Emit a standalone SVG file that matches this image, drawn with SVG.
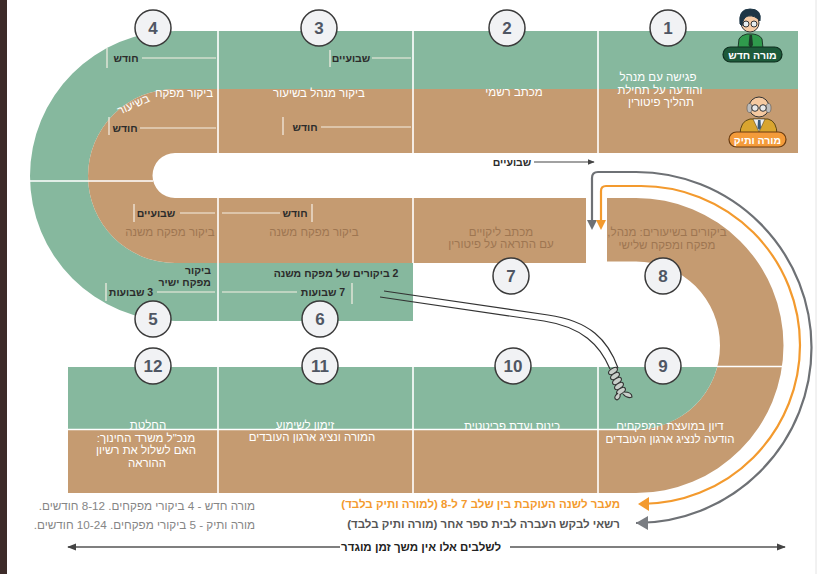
<svg xmlns="http://www.w3.org/2000/svg" width="828" height="574" viewBox="0 0 828 574">
<style>
.g{fill:#86b89e}
.t{fill:#c59b71}
.dv{stroke:#fff;stroke-width:1.6;fill:none}
.tk{stroke:#f6efe4;stroke-width:1.2;fill:none}
.lbl{font-family:"Liberation Sans",Arial,sans-serif;font-weight:bold;font-size:10.5px;fill:#2b2b2b}
.w{font-family:"Liberation Sans",Arial,sans-serif;font-size:11.5px;fill:#fff}
.d{font-family:"Liberation Sans",Arial,sans-serif;font-size:11.5px;fill:#9e7651}
.circ{fill:#f1f2f4;stroke:#3a3a3a;stroke-width:1.5}
.num{font-family:"Liberation Sans",Arial,sans-serif;font-weight:bold;font-size:17px;fill:#4f5663;text-anchor:middle}
.leg{font-family:"Liberation Sans",Arial,sans-serif;font-size:11.7px;fill:#858585}
text{direction:rtl}
</style>
<defs>
<marker id="ah" viewBox="0 0 10 10" refX="9" refY="5" markerWidth="6" markerHeight="6" orient="auto">
<path d="M0,1 L10,5 L0,9 Z" fill="#444"/>
</marker>
</defs>
<rect x="0" y="0" width="828" height="574" fill="#fff"/>
<rect x="0" y="0" width="7" height="574" fill="#3d2b29"/>
<line x1="816" y1="0" x2="816" y2="574" stroke="#e4e4e4" stroke-width="1"/>

<g id="track">
<rect class="g" x="175" y="31" width="623" height="58"/>
<rect class="t" x="175" y="89" width="623" height="64"/>
<path class="g" d="M175,31 A145,145 0 0 0 175,321 V263 A87,87 0 0 1 175,89 Z"/>
<path class="t" d="M175,89 A87,87 0 0 0 175,263 V198 A22.5,22.5 0 0 1 175,153 Z"/>
<rect class="t" x="175" y="198" width="411" height="65"/>
<rect class="g" x="175" y="263" width="238" height="58"/>
<path class="t" d="M607,198 H636 A147.5,147.5 0 0 1 636,493 H68 V429.5 H636 A84,84 0 0 0 636,261.5 H607 Z"/>
<path class="g" d="M68,367 H717.2 A84,84 0 0 1 636,429.5 H68 Z"/>
<path class="dv" d="M68,429.5 H636 M218,31 V153 M413,31 V153 M598,31 V153 M218,198 V321 M413,198 V263 M218,367 V493 M413,367 V493 M598,367 V493 M29,181 H153 M717,366.5 H783"/>
</g>

<g id="s1">
<circle class="circ" cx="668" cy="28" r="18"/><text class="num" x="668" y="34">1</text>
<text class="w" text-anchor="middle" x="658" y="81">פגישה עם מנהל</text>
<text class="w" text-anchor="middle" x="660" y="94">והודעה על תחילת</text>
<text class="w" text-anchor="middle" x="661" y="106">תהליך פיטורין</text>
</g>
<g id="new-teacher">
<path d="M738,48 L739,39 Q741,35 747,34 H753 Q760,35 762,39 L763,48 Z" fill="#2f9a4c" stroke="#1d3b2a" stroke-width="1"/>
<path d="M749.5,35 H752 L753,45 L750.7,48 L748.5,45 Z" fill="#1d3b2a"/>
<circle cx="750" cy="23" r="9" fill="#f6cba6" stroke="#333" stroke-width="1"/>
<path d="M740,24 Q738,9 750,9 Q762,9 760,21 Q755,15 748,16 Q743,17 742,26 Z" fill="#1e3646" stroke="#1e3646" stroke-width="1"/>
<circle cx="746" cy="24" r="3" fill="#e6edf1" stroke="#333" stroke-width="1"/>
<circle cx="754" cy="24" r="3" fill="#e6edf1" stroke="#333" stroke-width="1"/>
<rect x="723" y="47" width="59" height="15" rx="7.5" fill="#1d5a3a" stroke="#0f2f1f" stroke-width="1.2"/>
<text x="752.5" y="58.5" text-anchor="middle" font-family="Liberation Sans, Arial, sans-serif" font-weight="bold" font-size="10.5" fill="#fff">מורה חדש</text>
</g>
<g id="old-teacher">
<path d="M740,135 Q740,121 750,119 H768 Q777,121 777,135 Z" fill="#d9a52f" stroke="#5b4517" stroke-width="1"/>
<path d="M753,119 H765 L759,132 Z" fill="#eef0f4" stroke="#5b4517" stroke-width="0.6"/>
<path d="M758,120 H760.5 L761,128 L759.2,130 L757.5,128 Z" fill="#3a5a7a"/>
<circle cx="759" cy="107" r="10" fill="#f5c9a0" stroke="#333" stroke-width="1"/>
<ellipse cx="749.5" cy="108" rx="2.5" ry="4.5" fill="#bdbdbd" stroke="#555" stroke-width="0.6"/>
<ellipse cx="768.5" cy="108" rx="2.5" ry="4.5" fill="#bdbdbd" stroke="#555" stroke-width="0.6"/>
<circle cx="755" cy="108" r="3.3" fill="#e8e8e8" stroke="#333" stroke-width="1"/>
<circle cx="763" cy="108" r="3.3" fill="#e8e8e8" stroke="#333" stroke-width="1"/>
<rect x="729" y="132" width="57" height="15" rx="7.5" fill="#f49b3a" stroke="#6b3d12" stroke-width="1.2"/>
<text x="757.5" y="143.5" text-anchor="middle" font-family="Liberation Sans, Arial, sans-serif" font-weight="bold" font-size="10.5" fill="#fff">מורה ותיק</text>
</g>

<g id="s2">
<circle class="circ" cx="507" cy="28" r="18"/><text class="num" x="507" y="34">2</text>
<text class="w" text-anchor="middle" x="514" y="96">מכתב רשמי</text>
</g>

<g id="s3">
<circle class="circ" cx="319" cy="28" r="18"/><text class="num" x="319" y="34">3</text>
<path class="tk" d="M330,50 V67 M372,58 H411 M283,117 V135 M321,127 H411"/>
<text class="lbl" text-anchor="middle" x="351" y="62">שבועיים</text>
<text class="w" text-anchor="middle" x="319" y="97">ביקור מנהל בשיעור</text>
<text class="lbl" text-anchor="middle" x="305" y="131">חודש</text>
</g>

<g id="s4">
<circle class="circ" cx="153" cy="28" r="18"/><text class="num" x="153" y="34">4</text>
<path class="tk" d="M107,48 V68 M142,58 H216 M109,117 V135 M140,128 H216"/>
<text class="lbl" text-anchor="middle" x="126" y="62">חודש</text>
<text class="w" text-anchor="middle" x="184" y="97">ביקור מפקח</text>
<text class="w" text-anchor="middle" transform="translate(135,108) rotate(-24)" x="0" y="0">בשיעור</text>
<text class="lbl" text-anchor="middle" x="125" y="132">חודש</text>
</g>

<g id="s5">
<circle class="circ" cx="153" cy="319" r="18"/><text class="num" x="153" y="325">5</text>
<path class="tk" d="M134,204 V222 M180,213 H215 M106,283 V301 M157,292 H215"/>
<text class="lbl" text-anchor="middle" x="156" y="217">שבועיים</text>
<text class="d" text-anchor="middle" x="170" y="236">ביקור מפקח משנה</text>
<text class="lbl" text-anchor="start" x="211" y="274">ביקור</text>
<text class="lbl" text-anchor="start" x="211" y="286">מפקח ישיר</text>
<text class="lbl" text-anchor="middle" x="131" y="296">3 שבועות</text>
</g>

<g id="s6">
<circle class="circ" cx="320" cy="319" r="18"/><text class="num" x="320" y="325">6</text>
<path class="tk" d="M312,204 V222 M222,213 H280 M352,283 V304 M222,292 H297"/>
<text class="lbl" text-anchor="middle" x="295" y="217">חודש</text>
<text class="d" text-anchor="middle" x="314" y="236">ביקור מפקח משנה</text>
<text class="lbl" text-anchor="middle" x="336" y="277">2 ביקורים של מפקח משנה</text>
<text class="lbl" text-anchor="middle" x="323" y="296">7 שבועות</text>
</g>

<g id="s7">
<circle class="circ" cx="511" cy="276" r="18"/><text class="num" x="511" y="282">7</text>
<text class="d" text-anchor="middle" x="501" y="236">מכתב ליקויים</text>
<text class="d" text-anchor="middle" x="501" y="248">עם התראה על פיטורין</text>
</g>

<g id="s8">
<circle class="circ" cx="663" cy="276" r="18"/><text class="num" x="663" y="282">8</text>
<text class="d" text-anchor="middle" x="667" y="236">ביקורים בשיעורים: מנהל,</text>
<text class="d" text-anchor="middle" x="667" y="249">מפקח ומפקח שלישי</text>
</g>

<g id="s9">
<circle class="circ" cx="663" cy="366" r="18"/><text class="num" x="663" y="372">9</text>
<text class="w" text-anchor="middle" x="670" y="430">דיון במועצת המפקחים</text>
<text class="w" text-anchor="middle" x="670" y="443">הודעה לנציג ארגון העובדים</text>
</g>

<g id="s10">
<circle class="circ" cx="513" cy="366" r="18"/><text class="num" x="513" y="372">10</text>
<text class="w" text-anchor="middle" x="512" y="430">כינוס ועדת פריטטית</text>
</g>

<g id="s11">
<circle class="circ" cx="320" cy="366" r="18"/><text class="num" x="320" y="372">11</text>
<text class="w" text-anchor="middle" x="305" y="429">זימון לשימוע</text>
<text class="w" text-anchor="middle" x="312" y="441">המורה ונציג ארגון העובדים</text>
</g>

<g id="s12">
<circle class="circ" cx="153" cy="366" r="18"/><text class="num" x="153" y="372">12</text>
<text class="w" text-anchor="middle" x="148" y="429">החלטת</text>
<text class="w" text-anchor="middle" x="146" y="442">מנכ"ל משרד החינוך:</text>
<text class="w" text-anchor="middle" x="146" y="454">האם לשלול את רשיון</text>
<text class="w" text-anchor="middle" x="147" y="467">ההוראה</text>
</g>

<g id="connectors">
<path d="M592,222 V178 Q592,172 598,172 H636 A175.5,175.5 0 0 1 636,523 H646" fill="none" stroke="#6e7175" stroke-width="2.2"/>
<path d="M587,220 L597,220 L592,230 Z" fill="#6e7175"/>
<path d="M636,523 L648,516 L648,530 Z" fill="#7a7d82"/>
<path d="M601,222 V191 Q601,186 606,186 H641 A159,159 0 0 1 641,504 H646" fill="none" stroke="#f39a2e" stroke-width="2.2"/>
<path d="M596,220 L606,220 L601,230 Z" fill="#f39a2e"/>
<path d="M638,504 L649,497 L649,511 Z" fill="#f39a2e"/>
<line x1="534" y1="162" x2="594" y2="162" stroke="#444" stroke-width="1.2" marker-end="url(#ah)"/>
<line x1="510" y1="547" x2="785" y2="547" stroke="#555" stroke-width="1.5" marker-end="url(#ah)"/>
<line x1="340" y1="547" x2="68" y2="547" stroke="#555" stroke-width="1.5" marker-end="url(#ah)"/>
<g id="rope" fill="none" stroke="#333" stroke-width="1.2">
<path d="M384,291 L548,315 C590,321 608,340 618,368"/>
<path d="M380,297 L544,321 C582,327 600,345 610,369"/>
<g fill="#c9cfca" stroke="#333" stroke-width="1.1">
<ellipse cx="613" cy="371" rx="5" ry="2.6" transform="rotate(-35 613 371)"/>
<ellipse cx="615" cy="376" rx="5" ry="2.6" transform="rotate(-35 615 376)"/>
<ellipse cx="617" cy="381" rx="5" ry="2.6" transform="rotate(-35 617 381)"/>
<ellipse cx="619" cy="386" rx="5" ry="2.6" transform="rotate(-35 619 386)"/>
<ellipse cx="621" cy="391" rx="5" ry="2.6" transform="rotate(-35 621 391)"/>
<path d="M618,393 Q612,398 617,400 Q621,398 620,394"/>
<path d="M624,392 Q632,392 632,397 Q627,399 623,394"/>
</g>
</g>
</g>

<g id="legend">
<text x="620" y="508" text-anchor="start" font-family="Liberation Sans, Arial, sans-serif" font-weight="bold" font-size="11.5" fill="#f39a2e">מעבר לשנה העוקבת בין שלב 7 ל-8 (למורה ותיק בלבד)</text>
<text x="620" y="528" text-anchor="start" font-family="Liberation Sans, Arial, sans-serif" font-weight="bold" font-size="11.5" fill="#555">רשאי לבקש העברה לבית ספר אחר (מורה ותיק בלבד)</text>
<text x="501" y="551" text-anchor="start" font-family="Liberation Sans, Arial, sans-serif" font-weight="bold" font-size="11.5" fill="#222">לשלבים אלו אין משך זמן מוגדר</text>
<text class="lbl" text-anchor="middle" x="512" y="166">שבועיים</text>
<text class="leg" x="255" y="510" text-anchor="start">מורה חדש - 4 ביקורי מפקחים. 8-12 חודשים.</text>
<text class="leg" x="255" y="529" text-anchor="start">מורה ותיק - 5 ביקורי מפקחים. 10-24 חודשים.</text>
</g>
</svg>
